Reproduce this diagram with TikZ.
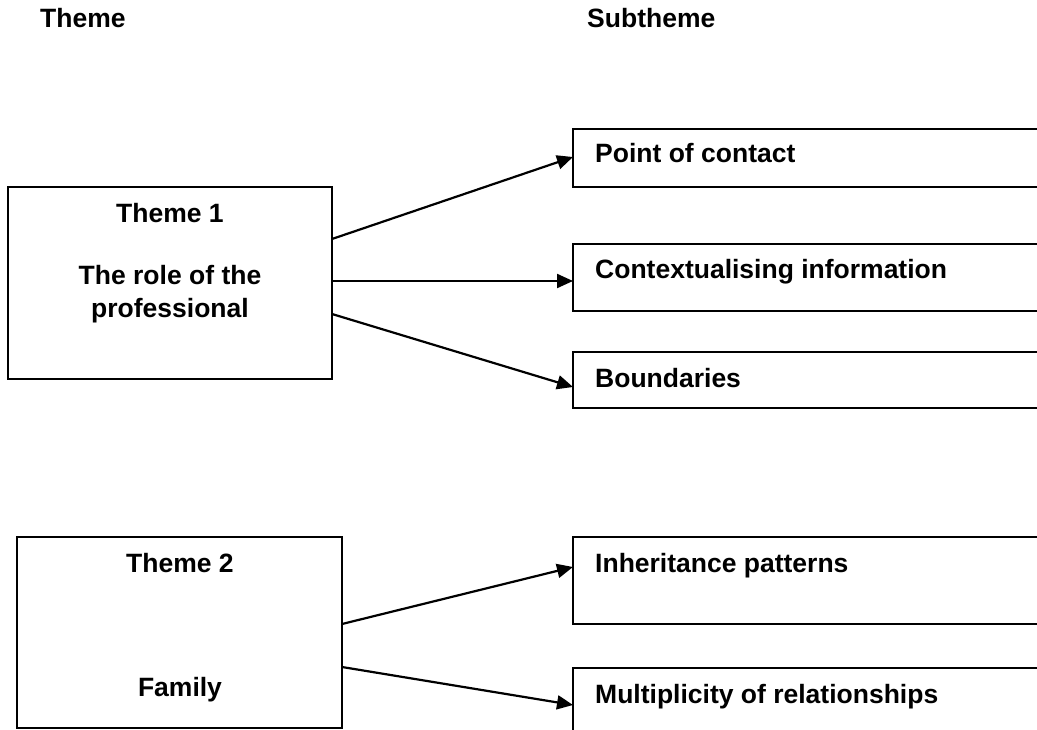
\documentclass[tikz,border=0pt]{standalone}
\usepackage{fontspec}
\setmainfont{Liberation Sans}
\usetikzlibrary{arrows.meta}
\begin{document}
\begin{tikzpicture}[x=1pt,y=-1pt,
  every node/.style={font=\fontsize{26.5}{32}\selectfont\bfseries},
  box/.style={draw, line width=2.2pt, rectangle, inner sep=0pt, outer sep=0pt, anchor=north west},
  lbl/.style={inner sep=0pt, anchor=base},
  sublbl/.style={inner sep=0pt, anchor=base west},
  conn/.style={line width=2.2pt, -{Triangle[length=16pt,width=14pt]}}
]
\useasboundingbox (0,0) rectangle (1037,730);
\clip (0,0) rectangle (1037,730);

% column headings
\node[sublbl] (hTheme) at (40,28) {Theme};
\node[sublbl] (hSub) at (587,28) {Subtheme};

% theme boxes
\node[box, minimum width=324pt, minimum height=192pt] (t1) at (8,187) {};
\node[lbl] (t1a) at (170,223) {Theme 1};
\node[lbl] (t1b) at (170,285) {The role of the};
\node[lbl] (t1c) at (170,318) {professional};

\node[box, minimum width=325pt, minimum height=191pt] (t2) at (17,537) {};
\node[lbl] (t2a) at (180,572) {Theme 2};
\node[lbl] (t2b) at (180,696) {Family};

% subtheme boxes (open to the right)
\node[box, minimum width=500pt, minimum height=58pt] (pc) at (573,129) {};
\node[sublbl] (pct) at (595,163) {Point of contact};
\node[box, minimum width=500pt, minimum height=67pt] (ci) at (573,244) {};
\node[sublbl] (cit) at (595,279) {Contextualising information};
\node[box, minimum width=500pt, minimum height=56pt] (bd) at (573,352) {};
\node[sublbl] (bdt) at (595,388) {Boundaries};
\node[box, minimum width=500pt, minimum height=87pt] (ip) at (573,537) {};
\node[sublbl] (ipt) at (595,572) {Inheritance patterns};
\node[box, minimum width=500pt, minimum height=92pt] (mr) at (573,668) {};
\node[sublbl] (mrt) at (595,703) {Multiplicity of relationships};

% connectors
\draw[conn] ([yshift=44pt]t1.east) -- ([yshift=1pt]pc.west);
\draw[conn] ([yshift=2pt]t1.east) -- ([yshift=-3.5pt]ci.west);
\draw[conn] ([yshift=-31pt]t1.east) -- ([yshift=-7pt]bd.west);
\draw[conn] ([yshift=8.5pt]t2.east) -- ([yshift=13.5pt]ip.west);
\draw[conn] ([yshift=-34.5pt]t2.east) -- ([yshift=9pt]mr.west);
\end{tikzpicture}
\end{document}
